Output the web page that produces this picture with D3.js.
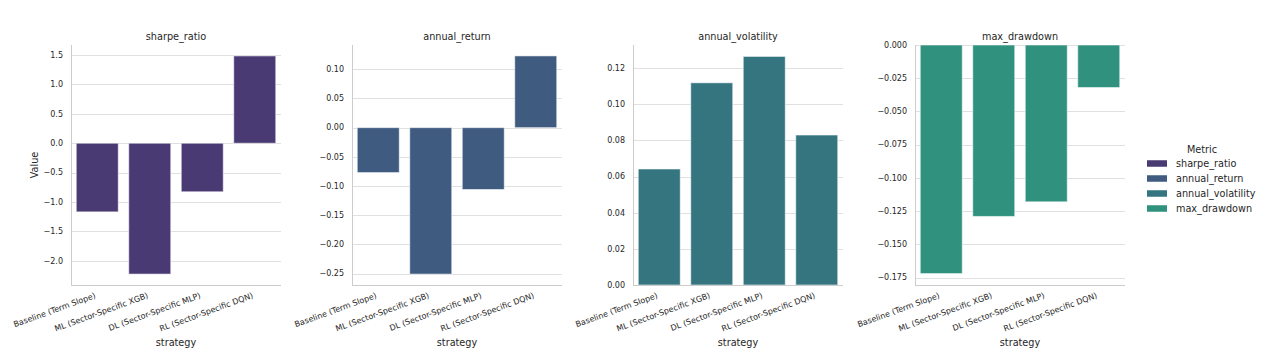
<!DOCTYPE html>
<html><head><meta charset="utf-8">
<script src="https://cdn.jsdelivr.net/npm/d3@7"></script>
<style>body{margin:0;background:#fff}svg{display:block;font-family:"DejaVu Sans",sans-serif}</style>
</head><body><svg id="c" width="1266" height="360"></svg>
<script>
const strategies = ["Baseline (Term Slope)","ML (Sector-Specific XGB)","DL (Sector-Specific MLP)","RL (Sector-Specific DQN)"];
const metrics = ["sharpe_ratio","annual_return","annual_volatility","max_drawdown"];
const sharpeRatio = [-1.168,-2.227,-0.826,1.486];
const annualReturn = [-0.077,-0.251,-0.106,0.123];
const annualVolatility = [0.0642,0.1119,0.1265,0.0830];
const maxDrawdown = [-0.172,-0.129,-0.118,-0.032];
const sharpeTicks = [-2.0,-1.5,-1.0,-0.5,0.0,0.5,1.0,1.5];
const returnTicks = [-0.25,-0.20,-0.15,-0.10,-0.05,0.00,0.05,0.10];
const volTicks = [0.00,0.02,0.04,0.06,0.08,0.10,0.12];
const ddTicks = [-0.175,-0.150,-0.125,-0.100,-0.075,-0.050,-0.025,0.000];
const tickFormats = [".1f",".2f",".2f",".3f"];
const colors = ["#4a3a73","#3f5b80","#347580","#2f917e"];

const series = [sharpeRatio, annualReturn, annualVolatility, maxDrawdown];
const ticks = [sharpeTicks, returnTicks, volTicks, ddTicks];

const svg = d3.select("#c");
const ink = "#262626";
const lefts = [71, 352, 633, 915];
const W = 210, plotTop = 45, plotBottom = 285;

metrics.forEach((m, i) => {
  const vals = series[i];
  const lo = Math.min(0, d3.min(vals)), hi = Math.max(0, d3.max(vals));
  const span = hi - lo;
  let dlo = lo - 0.05*span, dhi = hi + 0.05*span;
  if (hi === 0) dhi = 0;
  if (lo === 0) dlo = 0;
  const y = d3.scaleLinear().domain([dlo, dhi]).range([plotBottom, plotTop]);
  const x = d3.scaleBand().domain(strategies).range([0, W]).paddingInner(0.2).paddingOuter(0.1);
  const g = svg.append("g").attr("transform", `translate(${lefts[i]},0)`);

  g.append("g").selectAll("line").data(ticks[i]).join("line")
    .attr("x1", 0).attr("x2", W)
    .attr("y1", d => Math.round(y(d))+0.5).attr("y2", d => Math.round(y(d))+0.5)
    .attr("stroke", "#e0e0e0").attr("stroke-width", 1);

  g.append("g").selectAll("rect").data(vals).join("rect")
    .attr("x", (d, j) => x(strategies[j]))
    .attr("width", x.bandwidth())
    .attr("y", d => y(Math.max(0, d)))
    .attr("height", d => Math.abs(y(d) - y(0)))
    .attr("fill", colors[i])
    .attr("stroke", "#ffffff").attr("stroke-opacity", 0.55).attr("stroke-width", 1);

  g.append("line").attr("x1", 0.5).attr("x2", 0.5).attr("y1", plotTop).attr("y2", plotBottom)
    .attr("stroke", "#cccccc").attr("stroke-width", 1);
  g.append("line").attr("x1", 0).attr("x2", W).attr("y1", plotBottom+0.5).attr("y2", plotBottom+0.5)
    .attr("stroke", "#cccccc").attr("stroke-width", 1);

  const fmt = d3.format(tickFormats[i]);
  g.append("g").selectAll("text").data(ticks[i]).join("text")
    .attr("x", -8).attr("y", d => y(d)).attr("dy", "0.35em")
    .attr("text-anchor", "end").attr("font-size", 8).attr("fill", ink)
    .text(d => fmt(d).replace("-", "\u2212"));

  g.append("g").selectAll("text").data(strategies).join("text")
    .attr("transform", d => `translate(${x(d)+x.bandwidth()/2-3},${plotBottom+7}) rotate(-20)`)
    .attr("dy", "0.75em")
    .attr("text-anchor", "end").attr("font-size", 8).attr("fill", ink)
    .text(d => d);

  g.append("text").attr("x", W/2).attr("y", 39.5).attr("text-anchor", "middle")
    .attr("font-size", 9.7).attr("fill", ink).text(m);

  g.append("text").attr("x", W/2).attr("y", 346).attr("text-anchor", "middle")
    .attr("font-size", 9.7).attr("fill", ink).text("strategy");
});

svg.append("text").attr("transform", "translate(38,165) rotate(-90)")
  .attr("text-anchor", "middle").attr("font-size", 9.7).attr("fill", ink).text("Value");

const lg = svg.append("g");
lg.append("text").attr("x", 1202).attr("y", 153).attr("text-anchor", "middle")
  .attr("font-size", 9.7).attr("fill", ink).text("Metric");
metrics.forEach((m, i) => {
  const cy = 163.5 + i*15;
  lg.append("rect").attr("x", 1147).attr("y", cy-3.25).attr("width", 20).attr("height", 6.5)
    .attr("fill", colors[i]);
  lg.append("text").attr("x", 1176).attr("y", cy).attr("dy", "0.35em")
    .attr("font-size", 9.7).attr("fill", ink).text(m);
});
</script></body></html>
